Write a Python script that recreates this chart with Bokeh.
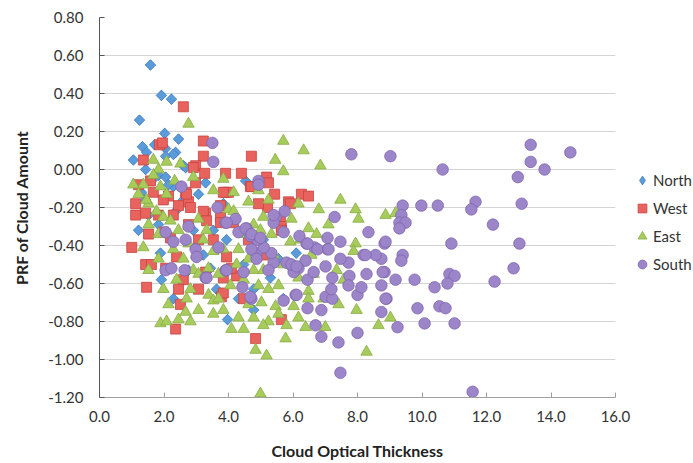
import math
from bokeh.plotting import figure
from bokeh.models import Range1d, FixedTicker, NumeralTickFormatter, Legend, LegendItem, ColumnDataSource
from bokeh.embed import file_html
from bokeh.resources import INLINE

# ---------------- data ----------------
series_names = ["North", "West", "East", "South"]

north = [(1.58,0.55),(1.92,0.39),(2.23,0.37),(1.24,0.26),(2.02,0.19),(1.33,0.12),(1.71,0.13),(2.05,0.11),
         (2.36,0.09),(1.46,0.09),(2.29,0.08),(2.05,0.07),(2.60,0.02),(2.67,0.01),(1.43,0.00),(1.83,-0.03),
         (2.05,-0.04),(1.30,-0.12),(1.43,-0.16),(2.29,-0.09),(2.36,-0.22),(1.89,-0.44),(1.92,-0.58),(3.97,-0.79),
         (4.53,-0.06),(6.10,-0.44),(3.29,-0.07),(5.30,-0.57),(3.44,-0.52),(3.94,-0.37),(1.52,-0.24),
         (1.83,-0.29),(1.21,-0.32),(2.60,-0.16),(2.91,-0.32),(3.22,-0.45),(3.63,-0.63),(4.31,-0.68),(4.78,-0.63),
         (5.08,-0.37),(5.55,-0.47),(2.76,-0.53),(2.29,-0.68),(3.84,-0.18),(3.07,-0.13),(1.67,-0.05),(2.14,-0.08),
         (3.53,-0.32),(4.47,-0.50),(4.78,-0.74),(5.70,-0.68),(1.05,0.05),(2.45,0.16)]

west = [(2.60,0.33),(1.86,0.13),(1.95,0.14),(3.22,0.15),(3.22,0.07),(1.36,0.05),(2.98,0.02),(3.26,-0.02),
        (3.91,-0.02),(4.40,-0.02),(1.58,-0.06),(2.98,-0.07),(3.91,-0.12),(2.67,-0.12),(1.12,-0.18),(1.12,-0.24),
        (2.14,-0.14),(2.76,-0.17),(3.29,-0.23),(3.75,-0.19),(4.71,0.07),(5.18,-0.04),(5.24,-0.07),(4.68,-0.09),
        (6.26,-0.13),(6.48,-0.14),(5.86,-0.17),(5.92,-0.18),(5.21,-0.20),(5.61,-0.27),(5.64,-0.30),(4.00,-0.12),
        (5.64,-0.79),(4.84,-0.89),(1.00,-0.41),(1.46,-0.62),(1.43,-0.50),(1.61,-0.50),(2.05,-0.52),(2.36,-0.84),
        (2.60,-0.58),(2.45,-0.63),(2.51,-0.71),(3.78,-0.67),(3.84,-0.57),(4.25,-0.56),(1.43,-0.23),(2.91,0.01),
        (2.70,-0.13),(2.82,-0.20),(2.45,-0.19),(1.98,-0.33),(2.20,-0.36),(2.39,-0.46),(3.84,-0.12),(4.71,-0.09),
        (3.22,-0.22),(3.32,-0.27),(3.75,-0.25),(3.75,-0.28),(4.16,-0.28),(5.64,-0.32),(4.09,-0.52),(3.94,-0.46),
        (3.29,-0.54),(3.84,-0.65),(1.21,-0.08),(1.67,-0.12),(1.98,-0.16),(1.83,-0.24),(3.07,-0.37),(2.76,-0.29),
        (3.53,-0.37),(4.62,-0.37),(5.08,-0.45),(4.47,-0.68),(3.07,-0.63),(1.52,-0.34),(2.29,-0.24),(4.93,-0.18),
        (5.43,-0.13)]

east = [(2.76,0.24),(5.70,0.15),(6.33,0.10),(5.45,0.05),(5.70,-0.01),(6.85,0.02),(4.16,-0.12),(4.62,-0.17),
        (7.47,-0.16),(6.80,-0.21),(7.94,-0.21),(8.03,-0.26),(8.87,-0.24),(9.18,-0.23),(5.08,-0.25),(5.95,-0.26),
        (6.48,-0.31),(5.33,-0.34),(5.92,-0.38),(7.94,-0.39),(7.88,-0.43),(4.00,-0.21),(9.02,-0.78),(8.65,-0.82),
        (8.28,-0.96),(7.97,-0.74),(7.00,-0.83),(6.39,-0.83),(5.77,-0.89),(5.18,-0.98),(4.84,-0.95),(4.99,-1.18),
        (6.48,-0.64),(6.48,-0.68),(6.02,-0.72),(5.02,-0.70),(4.62,-0.71),(5.46,-0.72),(5.24,-0.80),(4.09,-0.84),
        (1.89,-0.81),(2.08,-0.80),(1.98,-0.63),(2.67,-0.75),(2.70,-0.68),(2.82,-0.63),(3.38,-0.66),(3.53,-0.69),
        (3.69,-0.68),(1.36,-0.41),(1.52,-0.18),(1.83,0.00),(1.67,-0.03),(1.89,-0.09),(2.08,-0.13),(2.33,-0.06),
        (1.36,-0.08),(1.46,-0.16),(1.77,-0.22),(1.98,-0.25),(2.20,-0.27),(1.52,-0.29),(1.83,-0.34),(2.45,-0.32),
        (2.76,-0.39),(2.29,-0.42),(3.01,-0.45),(3.22,-0.37),(3.53,-0.43),(3.32,-0.32),(3.07,-0.26),(4.16,-0.22),
        (4.31,-0.42),(4.62,-0.47),(4.78,-0.53),(4.47,-0.58),(4.93,-0.61),(5.24,-0.63),(5.55,-0.61),(5.08,-0.53),
        (5.40,-0.45),(5.70,-0.50),(6.17,-0.57),(6.33,-0.48),(4.25,-0.50),(4.06,-0.61),(3.84,-0.74),(4.31,-0.78),
        (4.78,-0.78),(5.08,-0.82),(4.47,-0.84),(5.55,-0.76),(5.80,-0.82),(6.17,-0.78),(3.53,-0.76),(3.07,-0.74),
        (2.82,-0.80),(2.45,-0.79),(2.14,-0.71),(2.39,-0.58),(2.91,-0.53),(3.38,-0.52),(3.69,-0.55),(3.84,-0.42),
        (4.78,-0.29),(4.99,-0.32),(4.47,-0.34),(1.05,-0.08),(1.21,-0.13),(1.67,0.05),(2.08,0.04),(2.51,0.03),
        (2.91,-0.04),(3.53,-0.11),(3.84,-0.05),(4.93,-0.11),(6.73,-0.34),(7.10,-0.41),(7.35,-0.53),(6.64,-0.55),
        (7.57,-0.58),(6.95,-0.68),(7.41,-0.71),(6.23,-0.37),(6.57,-0.45),(7.10,-0.29),(5.24,-0.16),(6.17,-0.18),
        (2.60,-0.47),(1.83,-0.47),(1.52,-0.53),(3.07,-0.55)]

south = [(13.37,0.13),(13.37,0.04),(13.80,0.00),(12.97,-0.04),(14.60,0.09),(10.64,0.00),(9.02,0.07),(9.40,-0.19),
         (9.98,-0.19),(10.49,-0.19),(11.66,-0.17),(11.53,-0.21),(13.09,-0.18),(9.36,-0.24),(9.30,-0.28),(9.49,-0.28),
         (12.20,-0.29),(8.84,-0.39),(10.91,-0.39),(13.02,-0.39),(9.40,-0.45),(9.36,-0.48),(8.74,-0.47),(8.84,-0.54),
         (9.18,-0.58),(9.77,-0.58),(10.85,-0.55),(11.01,-0.56),(10.79,-0.60),(10.39,-0.62),(12.25,-0.59),(12.84,-0.52),
         (8.74,-0.61),(8.90,-0.68),(9.86,-0.73),(10.54,-0.72),(10.73,-0.73),(8.74,-0.75),(9.24,-0.83),(10.08,-0.81),
         (11.01,-0.81),(11.57,-1.17),(7.47,-1.07),(7.41,-0.91),(6.88,-0.88),(6.70,-0.82),(8.00,-0.86),(6.88,-0.74),
         (6.45,-0.73),(7.01,-0.67),(7.22,-0.68),(7.19,-0.63),(8.00,-0.66),(8.12,-0.62),(8.28,-0.55),(7.75,-0.56),
         (7.72,-0.61),(7.22,-0.57),(7.01,-0.51),(6.45,-0.58),(6.64,-0.54),(6.08,-0.66),(5.71,-0.69),(6.39,-0.48),
         (6.17,-0.52),(5.92,-0.50),(6.02,-0.54),(7.72,-0.49),(7.47,-0.47),(8.19,-0.45),(8.56,-0.45),(8.78,-0.54),
         (8.87,-0.68),(7.07,-0.42),(7.47,-0.38),(6.42,-0.39),(6.67,-0.41),(5.40,-0.49),(5.24,-0.53),(4.87,-0.44),
         (4.47,-0.54),(4.43,-0.62),(4.71,-0.68),(5.33,-0.44),(5.09,-0.41),(7.81,0.08),(7.29,-0.25),(5.74,-0.22),
         (5.46,-0.25),(5.40,-0.28),(5.71,-0.33),(4.22,-0.26),(4.56,-0.31),(4.31,-0.33),(4.90,-0.37),(4.68,-0.35),
         (6.20,-0.35),(6.45,-0.39),(7.07,-0.36),(6.76,-0.42),(7.10,-0.42),(4.93,-0.06),(3.50,0.14),(3.53,0.04),
         (2.54,-0.09),(3.66,-0.20),(2.05,-0.33),(2.29,-0.38),(2.67,-0.37),(2.76,-0.30),(2.98,-0.42),(3.01,-0.46),
         (3.91,-0.28),(4.53,-0.31),(3.69,-0.41),(2.05,-0.53),(2.23,-0.52),(2.64,-0.53),(3.29,-0.57),(3.91,-0.53),
         (4.93,-0.08),(3.94,-0.28),(4.71,-0.34),(4.99,-0.36),(5.40,-0.24),(4.71,-0.42),(4.87,-0.47),(5.80,-0.49),
         (5.95,-0.50),(6.11,-0.51),(3.94,-0.53),(3.32,-0.57),(6.11,-0.66),(4.68,-0.67),(8.87,-0.38),(8.25,-0.45),
         (8.34,-0.33),(9.30,-0.31)]

x_ticks = [0, 2, 4, 6, 8, 10, 12, 14, 16]
y_ticks = [-1.2, -1.0, -0.8, -0.6, -0.4, -0.2, 0.0, 0.2, 0.4, 0.6, 0.8]

# ---------------- styling ----------------
FONT = "Lato"
TXT = "#333333"

p = figure(frame_width=516, frame_height=380,
           min_border_left=99, min_border_top=17, min_border_right=78, min_border_bottom=58,
           x_range=Range1d(0, 16), y_range=Range1d(-1.2, 0.8),
           output_backend="svg", toolbar_location=None)
p.outline_line_color = None
p.background_fill_color = "white"
p.border_fill_color = "white"

p.xgrid.grid_line_color = None
p.ygrid.grid_line_color = "#d4d4d4"
p.ygrid.grid_line_width = 1

p.xaxis.ticker = FixedTicker(ticks=x_ticks)
p.yaxis.ticker = FixedTicker(ticks=y_ticks)
p.xaxis.formatter = NumeralTickFormatter(format="0.0")
p.yaxis.formatter = NumeralTickFormatter(format="0.00")
for ax in (p.xaxis, p.yaxis):
    ax.minor_tick_line_color = None
    ax.major_tick_in = 5
    ax.major_tick_out = 0
    ax.major_label_text_font = FONT
    ax.major_label_text_font_size = "15px"
    ax.major_label_text_color = TXT
    ax.axis_label_text_font = FONT
    ax.axis_label_text_font_size = "16px"
    ax.axis_label_text_font_style = "bold"
    ax.axis_label_text_color = "#222222"
p.xaxis.axis_line_color = "#a0a0a0"
p.xaxis.major_tick_line_color = "#a0a0a0"
p.yaxis.axis_line_color = "#555555"
p.yaxis.major_tick_line_color = "#555555"
p.yaxis.major_label_standoff = 16
p.xaxis.major_label_standoff = 13
p.xaxis.axis_label = "Cloud Optical Thickness"
p.yaxis.axis_label = "PRF of Cloud Amount"
p.xaxis.axis_label_standoff = 16
p.yaxis.axis_label_standoff = 14

styles = {
    "North": dict(marker="square", size=7.5, angle=math.pi / 4, fill="#5B9BD9", line="#3F7DC0"),
    "West": dict(marker="square", size=10, angle=0.0, fill="#E8625E", line="#C94440"),
    "East": dict(marker="triangle", size=11.5, angle=0.0, fill="#A7CC5C", line="#88AC44"),
    "South": dict(marker="circle", size=11.5, angle=0.0, fill="#9C85C9", line="#7E67AE"),
}
data = {"North": north, "West": west, "East": east, "South": south}

items = []
for name in series_names:
    pts = data[name]
    st = styles[name]
    src = ColumnDataSource(dict(x=[a for a, b in pts], y=[b for a, b in pts]))
    if name == "North":
        # diamond glyph used for the legend; hidden beneath the rotated squares drawn next
        r_leg = p.scatter("x", "y", source=src, marker="diamond", size=10,
                          fill_color=st["fill"], line_color=st["line"], line_width=0.8)
    r = p.scatter("x", "y", source=src, marker=st["marker"], size=st["size"], angle=st["angle"],
                  fill_color=st["fill"], line_color=st["line"], line_width=0.8)
    items.append(LegendItem(label=name, renderers=[r_leg if name == "North" else r]))

legend = Legend(items=items, location=(16, 122))
legend.border_line_color = None
legend.background_fill_alpha = 0
legend.padding = 0
legend.margin = 0
legend.glyph_width = 22
legend.glyph_height = 22
legend.spacing = 6
legend.label_standoff = 0
legend.label_text_font = FONT
legend.label_text_font_size = "15px"
legend.label_text_color = TXT
p.add_layout(legend, "right")

open("out.html", "w").write(file_html(p, INLINE))
